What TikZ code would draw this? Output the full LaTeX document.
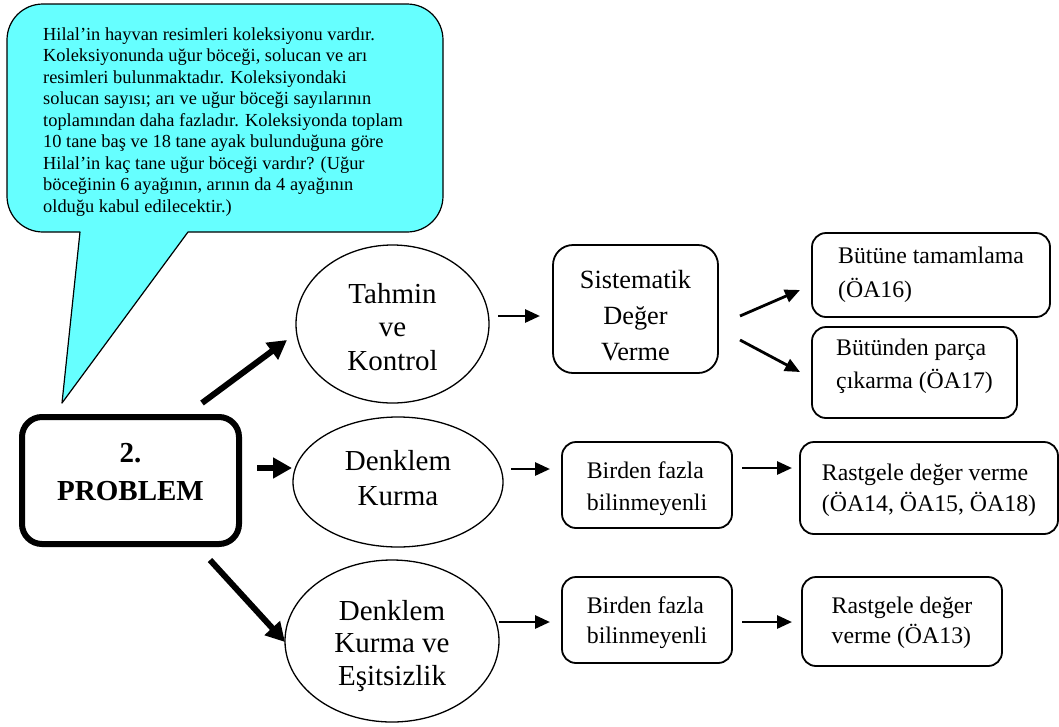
\documentclass[tikz,border=0pt]{standalone}
\usepackage{fontspec}
\setmainfont{Liberation Serif}
\usetikzlibrary{shapes.geometric,arrows.meta}
\definecolor{callcyan}{RGB}{102,255,255}
\newcommand\tbc[1]{\begin{tabular}[t]{@{}c@{}}#1\end{tabular}}
\newcommand\tbl[1]{\begin{tabular}[t]{@{}l@{}}#1\end{tabular}}
\begin{document}
\begin{tikzpicture}[x=1pt,y=-1pt,
  ell/.style={draw,ellipse,line width=1.3pt,inner sep=0pt,text height=0pt},
  rbox/.style={draw,rectangle,rounded corners=14pt,line width=1.8pt,inner sep=0pt,text height=0pt},
  bigarr/.style={line width=6pt,-{Triangle[length=19pt,width=20pt]}},
  smallarr/.style={line width=2.8pt,-{Triangle[length=15pt,width=13pt]}},
  efont/.style={font=\fontsize{29}{#1}\selectfont},
  bfont/.style={font=\fontsize{23.8}{#1}\selectfont}]
\useasboundingbox (0,0) rectangle (1059,726);

% callout
\draw[fill=callcyan,line width=1.2pt,line join=round]
  (80,232) -- (62,403) -- (188,232) -- (407,232)
  .. controls (427,232) and (443,216) .. (443,196) -- (443,40)
  .. controls (443,20) and (427,4) .. (407,4) -- (43,4)
  .. controls (23,4) and (7,20) .. (7,40) -- (7,196)
  .. controls (7,216) and (23,232) .. (43,232) -- cycle;
\node[anchor=base west,inner sep=0pt,text height=0pt,text depth=0pt,
      font=\fontsize{18.4}{21.5}\selectfont] (q) at (43,40) {\tbl{%
Hilal’in hayvan resimleri koleksiyonu vardır.\\
Koleksiyonunda uğur böceği, solucan ve arı\\
resimleri bulunmaktadır. Koleksiyondaki\\
solucan sayısı; arı ve uğur böceği sayılarının\\
toplamından daha fazladır. Koleksiyonda toplam\\
10 tane baş ve 18 tane ayak bulunduğuna göre\\
Hilal’in kaç tane uğur böceği vardır? (Uğur\\
böceğinin 6 ayağının, arının da 4 ayağının\\
olduğu kabul edilecektir.)}};

% problem box
\node[draw,rectangle,rounded corners=20pt,line width=6pt,inner sep=0pt,
      minimum width=217pt,minimum height=127pt,text height=0pt,text depth=37pt,
      font=\bfseries\fontsize{29}{38}\selectfont] (pb) at (130.5,480.5)
      {\tbc{2.\\PROBLEM}};

% ellipses
\node[ell,efont=33.5,minimum width=193pt,minimum height=158pt,text depth=42pt]
  (tk) at (392.5,324) {\tbc{Tahmin\\ve\\Kontrol}};
\node[ell,efont=35,minimum width=210pt,minimum height=130pt,text depth=24pt]
  (dk) at (398,482) {\tbc{Denklem\\Kurma}};
\node[ell,efont=32.5,minimum width=214pt,minimum height=162pt,text depth=42pt]
  (dke) at (392,641) {\tbc{Denklem\\Kurma ve\\Eşitsizlik}};

% boxes
\node[rbox,rounded corners=20pt,font=\fontsize{26.3}{36}\selectfont,
      minimum width=165pt,minimum height=128pt,text depth=42pt]
  (sdv) at (635.5,309) {\tbc{Sistematik\\Değer\\Verme}};
\node[rbox,bfont=34,minimum width=238pt,minimum height=84pt,text depth=24pt]
  (bt) at (931,275) {\tbl{Bütüne tamamlama\\(ÖA16)}};
\node[rbox,bfont=33,minimum width=205pt,minimum height=91pt,text depth=35pt]
  (bp) at (914.5,372.5) {\tbl{Bütünden parça\\çıkarma (ÖA17)}};
\node[rbox,bfont=32,minimum width=170pt,minimum height=86pt,text depth=14pt]
  (bf1) at (647,485) {\tbl{Birden fazla\\bilinmeyenli}};
\node[rbox,bfont=31,minimum width=258pt,minimum height=92pt,text depth=16pt]
  (r1) at (929,488) {\tbl{Rastgele değer verme\\(ÖA14, ÖA15, ÖA18)}};
\node[rbox,bfont=30,minimum width=170pt,minimum height=86pt,text depth=14pt]
  (bf2) at (647,620) {\tbl{Birden fazla\\bilinmeyenli}};
\node[rbox,bfont=30,minimum width=200pt,minimum height=89pt,text depth=17pt]
  (r2) at (902,621.5) {\tbl{Rastgele değer\\verme (ÖA13)}};

% connector end points
\coordinate (pbA) at (202,403);  \coordinate (tkA) at (287,340);
\coordinate (pbB) at (257,468);  \coordinate (dkB) at (292,468);
\coordinate (pbC) at (210,560);  \coordinate (dkeC) at (285,642);
\coordinate (tkO) at (498,316);  \coordinate (sdvI) at (540,316);
\coordinate (sdvO1) at (740,316); \coordinate (btI) at (800,290);
\coordinate (sdvO2) at (740,340); \coordinate (bpI) at (800,372);
\coordinate (dkO) at (511,469);  \coordinate (bf1I) at (550,469);
\coordinate (bf1O) at (742,468); \coordinate (r1I) at (792,468);
\coordinate (dkeO) at (499,622); \coordinate (bf2I) at (550,622);
\coordinate (bf2O) at (742,622); \coordinate (r2I) at (792,622);

\draw[bigarr] (pbA) -- (tkA);
\draw[bigarr] (pbB) -- (dkB);
\draw[bigarr] (pbC) -- (dkeC);
\draw[smallarr] (tkO) -- (sdvI);
\draw[smallarr] (sdvO1) -- (btI);
\draw[smallarr] (sdvO2) -- (bpI);
\draw[smallarr] (dkO) -- (bf1I);
\draw[smallarr] (bf1O) -- (r1I);
\draw[smallarr] (dkeO) -- (bf2I);
\draw[smallarr] (bf2O) -- (r2I);
\end{tikzpicture}
\end{document}
